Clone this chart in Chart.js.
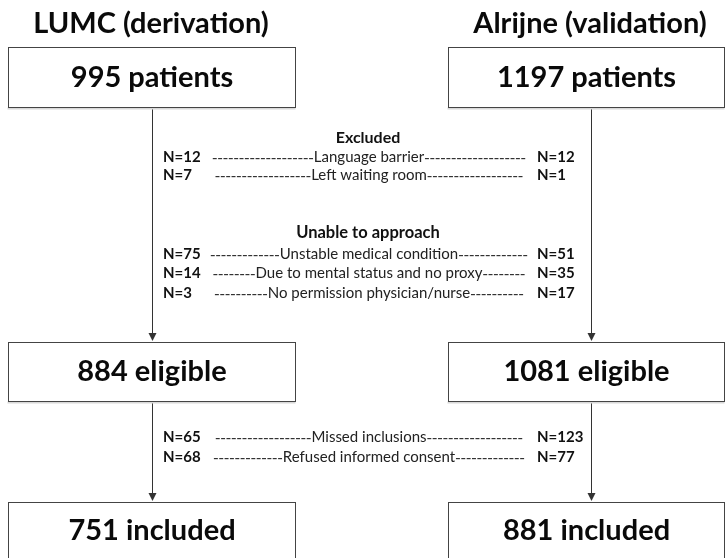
<!DOCTYPE html>
<html><head><meta charset="utf-8">
<script src="https://cdn.jsdelivr.net/npm/chart.js@4/dist/chart.umd.min.js"></script>
<style>html,body{margin:0;padding:0;background:#fff;overflow:hidden}canvas{display:block}</style>
</head><body>
<canvas id="c" width="726" height="558"></canvas>
<script>
// ---- data ----
const sites = ["LUMC (derivation)", "Alrijne (validation)"];
const stageLabels = ["patients", "eligible", "included"];
const lumcCounts = [995, 884, 751];
const alrijneCounts = [1197, 1081, 881];
const excludedTitle = "Excluded";
const excludedReasons = ["Language barrier", "Left waiting room"];
const excludedLumc = [12, 7];
const excludedAlrijne = [12, 1];
const unableTitle = "Unable to approach";
const unableReasons = ["Unstable medical condition", "Due to mental status and no proxy", "No permission physician/nurse"];
const unableLumc = [75, 14, 3];
const unableAlrijne = [51, 35, 17];
const lossReasons = ["Missed inclusions", "Refused informed consent"];
const lossLumc = [65, 68];
const lossAlrijne = [123, 77];

// ---- layout (drawing only) ----
const FONT = "Lato, 'Open Sans', sans-serif";
const colX = [152, 591];
const boxL = [[8, 295], [448, 724]];
const boxY = [[47, 107], [342, 401], [502, 562]];
const titleY = 24;
const rowsExcl = [157, 175], exclTitleY = 138;
const rowsUnable = [254, 273, 293], unableTitleY = 233;
const rowsLoss = [437, 457];
const nLeftX = 163, nRightX = 537, dashL = 210, dashR = 528;
const dashPitch = 5.35;

const flowPlugin = {
  id: 'flow',
  afterDraw(chart) {
    const ctx = chart.ctx, xs = chart.scales.x, ys = chart.scales.y;
    const X = v => xs.getPixelForValue(v), Y = v => ys.getPixelForValue(v);
    ctx.save();
    ctx.fillStyle = '#fff';
    ctx.fillRect(0, 0, chart.width, chart.height);
    // titles
    ctx.fillStyle = '#0a0a0a';
    ctx.textAlign = 'center'; ctx.textBaseline = 'middle';
    ctx.font = `bold 29px ${FONT}`;
    sites.forEach((s, i) => ctx.fillText(s, X(colX[i]) - 1, Y(titleY)));
    // connectors
    ctx.strokeStyle = '#333'; ctx.lineWidth = 1;
    for (let i = 0; i < 2; i++) {
      for (let k = 0; k < 2; k++) {
        const x = Math.round(X(colX[i])) + 0.5;
        const y0 = Y(boxY[k][1]), y1 = Y(boxY[k + 1][0]);
        ctx.beginPath(); ctx.moveTo(x, y0); ctx.lineTo(x, y1 - 6); ctx.stroke();
        ctx.fillStyle = '#333';
        ctx.beginPath(); ctx.moveTo(x - 4, y1 - 9); ctx.lineTo(x + 4, y1 - 9); ctx.lineTo(x, y1 - 1); ctx.closePath(); ctx.fill();
      }
    }
    // boxes
    const counts = [lumcCounts, alrijneCounts];
    for (let i = 0; i < 2; i++) {
      for (let k = 0; k < 3; k++) {
        const x0 = Math.round(X(boxL[i][0])) + 0.5, x1 = Math.round(X(boxL[i][1])) + 0.5;
        const y0 = Math.round(Y(boxY[k][0])) + 0.5, y1 = Math.round(Y(boxY[k][1])) + 0.5;
        ctx.fillStyle = '#d8d8d8';
        ctx.fillRect(x0 - 1, y1, x1 - x0 + 1, 2);
        ctx.fillStyle = '#fff';
        ctx.fillRect(x0, y0, x1 - x0, y1 - y0);
        ctx.strokeStyle = '#444';
        ctx.strokeRect(x0, y0, x1 - x0, y1 - y0);
        ctx.fillStyle = '#0a0a0a';
        ctx.font = `bold 29px ${FONT}`;
        ctx.textAlign = 'center'; ctx.textBaseline = 'middle';
        ctx.fillText(counts[i][k] + ' ' + stageLabels[k], (x0 + x1) / 2, (y0 + Math.min(y1, chart.height + 30)) / 2 + (k === 2 ? -2 : 0));
      }
    }
    // middle text
    const mid = (dashL + dashR) / 2;
    function row(y, reason, a, b) {
      ctx.textBaseline = 'middle';
      ctx.font = `bold 15px ${FONT}`; ctx.textAlign = 'left'; ctx.fillStyle = '#111';
      ctx.fillText('N=' + a, X(nLeftX), Y(y));
      ctx.fillText('N=' + b, X(nRightX), Y(y));
      ctx.font = `15px ${FONT}`;
      const tw = ctx.measureText(reason).width;
      const side = (X(dashR) - X(dashL) - tw) / 2;
      const n = Math.max(0, Math.floor(side / dashPitch));
      const cx = X(mid);
      ctx.fillStyle = '#222';
      ctx.textAlign = 'center';
      ctx.fillText(reason, cx, Y(y));
      ctx.fillStyle = '#333';
      for (let j = 0; j < n; j++) {
        const lx = cx - tw / 2 - (j + 1) * dashPitch;
        const rx = cx + tw / 2 + j * dashPitch;
        ctx.fillRect(lx + 0.6, Y(y) + 1, dashPitch - 1.4, 1.2);
        ctx.fillRect(rx + 0.8, Y(y) + 1, dashPitch - 1.4, 1.2);
      }
    }
    ctx.font = `bold 16px ${FONT}`; ctx.textAlign = 'center'; ctx.fillStyle = '#111';
    ctx.fillText(excludedTitle, X(mid - 1), Y(exclTitleY));
    excludedReasons.forEach((r, i) => row(rowsExcl[i], r, excludedLumc[i], excludedAlrijne[i]));
    ctx.font = `bold 16.5px ${FONT}`; ctx.textAlign = 'center'; ctx.fillStyle = '#111';
    ctx.fillText(unableTitle, X(mid - 1), Y(unableTitleY));
    unableReasons.forEach((r, i) => row(rowsUnable[i], r, unableLumc[i], unableAlrijne[i]));
    lossReasons.forEach((r, i) => row(rowsLoss[i], r, lossLumc[i], lossAlrijne[i]));
    ctx.restore();
  }
};

new Chart(document.getElementById('c'), {
  type: 'scatter',
  data: { datasets: [{ data: [], pointRadius: 0 }] },
  options: {
    responsive: false, animation: false,
    layout: { padding: 0 },
    plugins: { legend: { display: false }, tooltip: { enabled: false } },
    scales: {
      x: { type: 'linear', min: 0, max: 726, display: false },
      y: { type: 'linear', min: 0, max: 558, reverse: true, display: false }
    }
  },
  plugins: [flowPlugin]
});
</script>
</body></html>
